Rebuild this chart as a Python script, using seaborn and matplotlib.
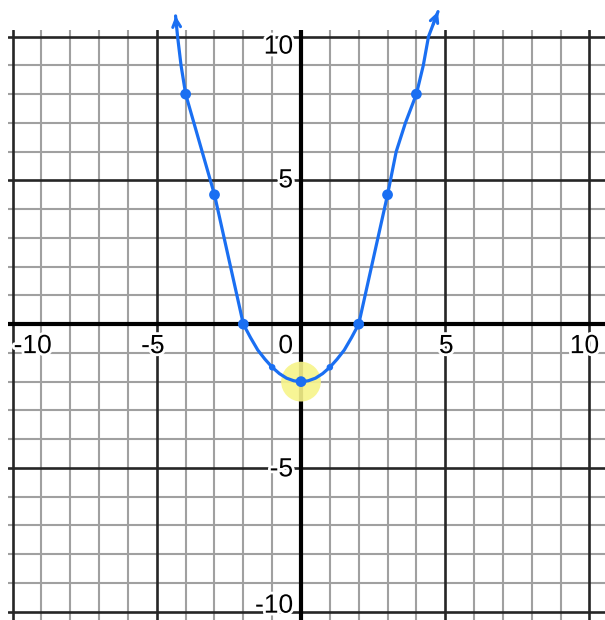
import matplotlib
matplotlib.use("Agg")
import matplotlib.pyplot as plt
import matplotlib.patheffects as pe
import pandas as pd
import seaborn as sns

# Traced curve (x, y), drawn left arm -> vertex -> right arm
curve_x = [-4.35, -4.28, -4.16, -4, -3, -2, -1.75, -1.5, -1.25, -1, -0.75, -0.5,
           -0.25, 0, 0.25, 0.5, 0.75, 1, 1.25, 1.5, 1.75, 2, 3, 3.3, 3.62, 4,
           4.24, 4.42, 4.75]
curve_y = [10.72, 10.0, 9.0, 8, 4.5, 0, -0.47, -0.9, -1.22, -1.5, -1.72, -1.88,
           -1.97, -2, -1.97, -1.88, -1.72, -1.5, -1.22, -0.9, -0.47, 0, 4.5, 6.0,
           7.0, 8, 9.0, 10.0, 10.87]

# Marked points
point_x = [-4, -3, -2, 0, 2, 3, 4]
point_y = [8, 4.5, 0, -2, 0, 4.5, 8]
small_x = [-1, 1]
small_y = [-1.5, -1.5]
vertex_x = [0]
vertex_y = [-2]

# Axis labels
tick_values = [-10, -5, 0, 5, 10]
tick_text = ["-10", "-5", "0", "5", "10"]

BLUE = "#1a6ff2"

sns.set_style("white")
plt.rcParams["font.family"] = ["Liberation Sans", "DejaVu Sans"]

fig = plt.figure(figsize=(6.05, 6.2), dpi=100)
ax = fig.add_axes([8 / 605, 0, 597 / 605, 590 / 620])
ax.set_xlim(-10.16, 10.54)
ax.set_ylim(-10.29, 10.23)
ax.set_xticks([])
ax.set_yticks([])
for s in ax.spines.values():
    s.set_visible(False)

# Graph-paper grid: every unit light, every five units dark, axes black
for v in range(-10, 11):
    if v == 0:
        style = dict(color="black", linewidth=3, zorder=1.5)
    elif v % 5 == 0:
        style = dict(color="#262626", linewidth=1.9, zorder=1.2)
    else:
        style = dict(color="#a0a0a0", linewidth=1.5, zorder=1)
    ax.axvline(v, **style)
    ax.axhline(v, **style)

# Highlight around the vertex
sns.scatterplot(x=vertex_x, y=vertex_y, s=820, color="#f7f48a", alpha=0.9,
                edgecolor="none", ax=ax, zorder=2, legend=False)

# Curve
df = pd.DataFrame({"x": curve_x, "y": curve_y})
sns.lineplot(data=df, x="x", y="y", sort=False, color=BLUE, linewidth=2.3,
             ax=ax, zorder=3, estimator=None)
curve_line = ax.lines[-1]
curve_line.set_clip_on(False)
curve_line.set_solid_capstyle("round")
curve_line.set_solid_joinstyle("round")

# Open arrowheads at both ends
ends = [((curve_x[1] * 0.5 + curve_x[0] * 0.5, curve_y[1] * 0.5 + curve_y[0] * 0.5),
         (curve_x[0], curve_y[0])),
        ((curve_x[-2] * 0.5 + curve_x[-1] * 0.5, curve_y[-2] * 0.5 + curve_y[-1] * 0.5),
         (curve_x[-1], curve_y[-1]))]
for (x0, y0), (x1, y1) in ends:
    ax.annotate("", xy=(x1, y1), xytext=(x0, y0), annotation_clip=False,
                arrowprops=dict(arrowstyle="->", color=BLUE, lw=2.2,
                                mutation_scale=14, shrinkA=0, shrinkB=0),
                zorder=4)

# Points
sns.scatterplot(x=point_x, y=point_y, s=60, color=BLUE, edgecolor="none",
                ax=ax, zorder=5, legend=False)
sns.scatterplot(x=small_x, y=small_y, s=22, color=BLUE, edgecolor="none",
                ax=ax, zorder=5, legend=False)
ax.set_xlabel("")
ax.set_ylabel("")

halo = [pe.withStroke(linewidth=4, foreground="white")]

# x-axis numbers
x_offsets = {-10: (1, "left"), -5: (-4, "center"), 0: (-8, "right"),
             5: (1, "center"), 10: (-5, "center")}
for v, t in zip(tick_values, tick_text):
    dx, ha = x_offsets[v]
    ax.annotate(t, xy=(v, 0), xytext=(dx, -22), textcoords="offset pixels",
                ha=ha, va="center", fontsize=19, color="black",
                path_effects=halo, zorder=6, annotation_clip=False)

# y-axis numbers
y_offsets = {-10: 6, -5: -1.5, 5: 0, 10: -10}
for v, t in zip(tick_values, tick_text):
    if v == 0:
        continue
    ax.annotate(t, xy=(0, v), xytext=(-8, y_offsets[v]), textcoords="offset pixels",
                ha="right", va="center", fontsize=19, color="black",
                path_effects=halo, zorder=6, annotation_clip=False)

fig.savefig("out.png", dpi=100, facecolor="white")
